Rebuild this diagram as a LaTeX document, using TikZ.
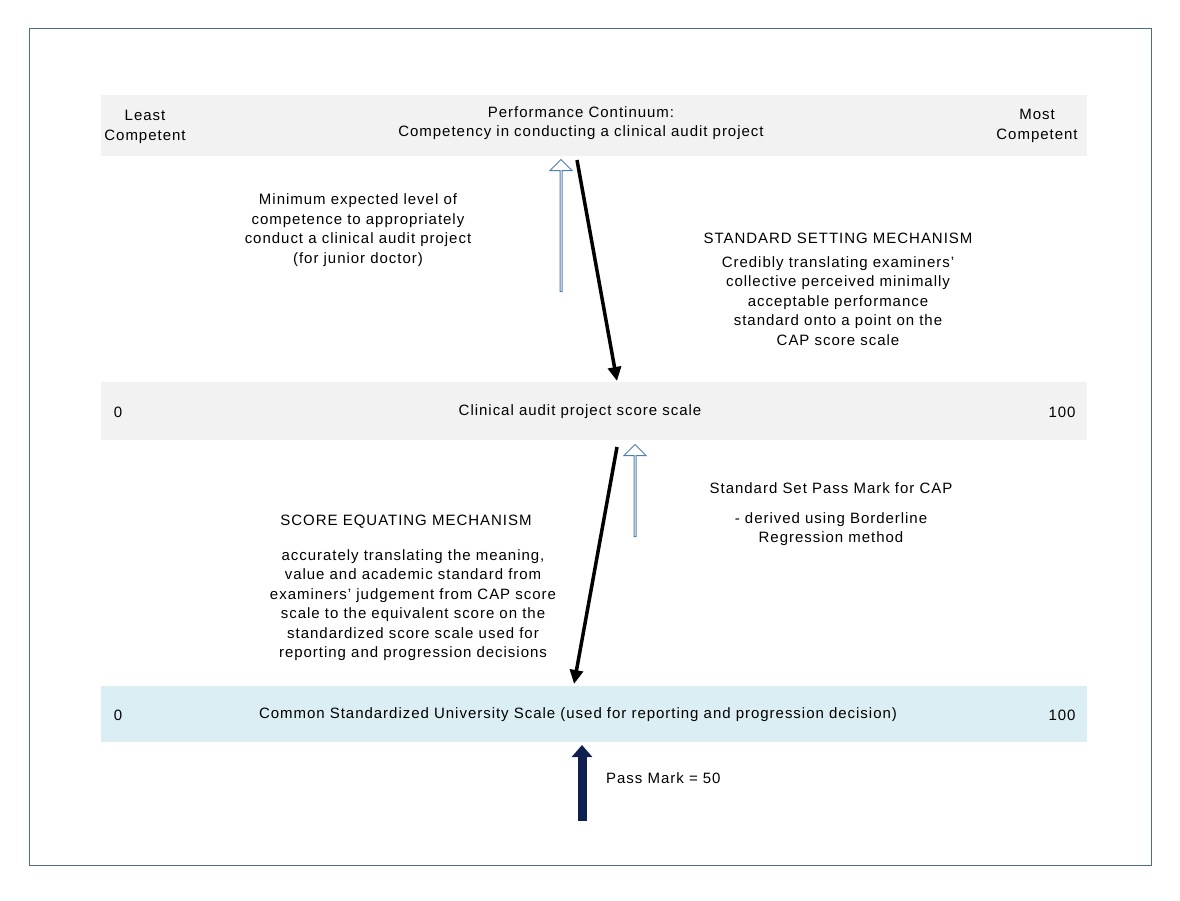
\documentclass[tikz,border=0pt]{standalone}
\usepackage{fontspec}
\setmainfont[LetterSpace=6.5]{Liberation Sans}
\usetikzlibrary{arrows.meta,shapes.arrows}
\definecolor{frame}{HTML}{4F6A8F}
\definecolor{bandgray}{HTML}{F2F2F2}
\definecolor{bandblue}{HTML}{DAEEF3}
\definecolor{hollow}{HTML}{4F7FB0}
\definecolor{navy}{HTML}{0F1F50}
\begin{document}
\begin{tikzpicture}[x=1pt,y=-1pt,
  txt/.style={font=\fontsize{15}{19.5}\selectfont,align=center,inner sep=0pt},
  blk/.style={line width=3.5pt,-{Triangle[length=14pt,width=13pt]}},
  hol/.style={single arrow,draw=hollow,fill=white,line width=1pt,minimum width=22pt,single arrow head extend=5pt,single arrow tip angle=90,inner xsep=0pt,inner ysep=5.5pt,shape border rotate=90}]
\useasboundingbox (0,0) rectangle (1180,900);
\draw[frame,line width=0.8pt] (29,28) rectangle (1151,865);
\fill[bandgray] (101,95) rectangle (1087,156);
\fill[bandgray] (101,382) rectangle (1087,440);
\fill[bandblue] (101,686) rectangle (1087,742);
\node[txt] (least) at (145,127) {Least\\Competent};
\node[txt] (pc) at (581,123) {Performance Continuum:\\Competency in conducting a clinical audit project};
\node[txt] (most) at (1037,126) {Most\\Competent};
\node[txt] (min) at (358,230) {Minimum expected level of\\competence to appropriately\\conduct a clinical audit project\\(for junior doctor)};
\node[txt] (ssm) at (838,238) {STANDARD SETTING MECHANISM};
\node[txt] (cred) at (838,301) {Credibly translating examiners'\\collective perceived minimally\\acceptable performance\\standard onto a point on the\\CAP score scale};
\node[txt] (z1) at (118,412) {0};
\node[txt] (caps) at (580,412) {Clinical audit project score scale};
\node[txt] (h1) at (1062,412) {100};
\node[txt] (sspm) at (831,488) {Standard Set Pass Mark for CAP};
\node[txt] (brm) at (831,529) {- derived using Borderline\\Regression method};
\node[txt] (sem) at (406,522) {SCORE EQUATING MECHANISM};
\node[txt] (acc) at (413,605) {accurately translating the meaning,\\value and academic standard from\\examiners' judgement from CAP score\\scale to the equivalent score on the\\standardized score scale used for\\reporting and progression decisions};
\node[txt] (z2) at (118,715) {0};
\node[txt] (csu) at (578,715) {Common Standardized University Scale (used for reporting and progression decision)};
\node[txt] (h2) at (1062,715) {100};
\node[txt,anchor=west] (pm) at (606,778) {Pass Mark = 50};
% hollow arrows
\node[hol,minimum height=132pt] (ha1) at (561,226) {};
\node[hol,minimum height=92pt] (ha2) at (635,491) {};
% black arrows
\coordinate (a1s) at (577,160); \coordinate (a1e) at (617,381);
\coordinate (a2s) at (617,447); \coordinate (a2e) at (574,684);
\draw[blk] (a1s) -- (a1e);
\draw[blk] (a2s) -- (a2e);
% navy arrow
\coordinate (ns) at (582,821); \coordinate (ne) at (582,745);
\draw[navy,line width=9pt,-{Triangle[length=12pt,width=20pt]}] (ns) -- (ne);
\end{tikzpicture}
\end{document}
